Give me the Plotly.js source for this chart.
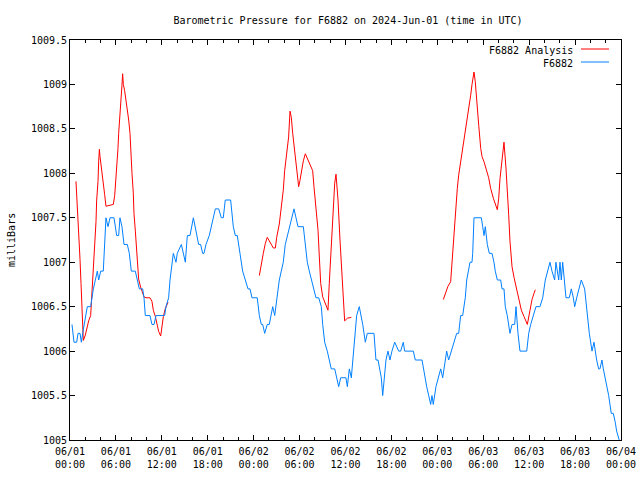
<!DOCTYPE html>
<html>
<head>
<meta charset="utf-8">
<script src="https://cdn.plot.ly/plotly-3.0.1.min.js"></script>
<style>html,body{margin:0;padding:0;background:#fff;}#chart{width:640px;height:480px;}</style>
</head>
<body>
<div id="chart"></div>
<script>
// Hours since 2024-06-01 00:00 UTC
var xTickVals = [0, 6, 12, 18, 24, 30, 36, 42, 48, 54, 60, 66, 72];
var xTickText = ["06/01<br>00:00","06/01<br>06:00","06/01<br>12:00","06/01<br>18:00",
                 "06/02<br>00:00","06/02<br>06:00","06/02<br>12:00","06/02<br>18:00",
                 "06/03<br>00:00","06/03<br>06:00","06/03<br>12:00","06/03<br>18:00",
                 "06/04<br>00:00"];
var yTickVals = [1005, 1005.5, 1006, 1006.5, 1007, 1007.5, 1008, 1008.5, 1009, 1009.5];
var yTickText = ["1005","1005.5","1006","1006.5","1007","1007.5","1008","1008.5","1009","1009.5"];

// Observed station pressure (F6882)
var obsHours = [
 0.26,0.52,0.87,1.05,1.31,1.48,1.66,1.83,2.09,2.26,
 2.70,2.87,3.05,3.31,3.57,3.75,4.01,4.35,4.53,4.70,
 4.97,5.23,5.75,5.93,6.10,6.36,6.53,6.79,7.06,7.49,
 7.75,8.01,8.53,8.80,9.06,9.50,9.67,9.84,10.45,10.71,
 10.98,11.24,12.37,12.54,12.89,13.07,13.33,13.50,13.85,14.02,
 14.55,14.80,15.07,15.33,15.68,16.12,16.38,16.81,17.07,17.33,
 17.51,17.77,18.20,18.73,18.99,19.43,19.77,20.03,20.29,20.99,
 21.34,21.60,21.86,22.21,22.56,22.91,23.26,23.52,23.78,24.47,
 24.74,25.00,25.18,25.44,25.78,26.04,26.23,26.49,26.75,27.01,
 27.35,27.61,27.87,28.13,28.40,28.66,28.92,29.27,29.53,29.79,
 30.49,30.75,31.01,31.27,31.53,31.79,32.14,32.50,32.84,33.02,
 33.28,33.62,33.88,34.14,34.59,34.85,35.11,35.37,36.06,36.24,
 36.50,36.76,36.94,37.20,37.46,37.80,38.06,38.25,38.59,38.85,
 39.72,39.98,40.25,40.51,40.68,40.86,41.12,41.29,41.55,41.81,
 42.07,42.43,42.95,43.21,43.55,43.73,44.86,45.12,46.00,46.35,
 46.61,46.87,47.13,47.30,47.47,47.82,48.09,48.44,48.70,48.87,
 49.22,49.48,49.82,50.09,50.53,50.79,51.05,51.31,51.48,51.65,
 51.84,52.10,52.27,52.53,52.62,52.79,53.75,53.93,54.10,54.27,
 54.53,54.79,55.14,55.40,55.57,55.84,56.28,56.45,56.71,56.88,
 57.14,57.49,57.76,58.11,58.28,58.54,58.80,59.68,59.94,60.20,
 60.54,60.89,61.41,61.77,62.11,62.37,62.72,62.98,63.33,63.50,
 63.86,64.03,64.20,64.38,64.64,64.81,65.24,65.51,65.77,65.95,
 66.21,66.55,66.81,67.25,67.60,67.86,68.21,68.47,68.82,69.08,
 69.25,69.51,69.69,69.95,70.21,70.39,70.73,70.99,71.25,71.43,
 71.77
];
var obsPressure = [
 1006.3,1006.1,1006.1,1006.2,1006.2,1006.1,1006.2,1006.3,1006.4,1006.5,
 1006.5,1006.6,1006.7,1006.8,1006.9,1006.8,1006.9,1006.9,1007.2,1007.5,
 1007.4,1007.5,1007.5,1007.4,1007.3,1007.3,1007.5,1007.4,1007.2,1007.2,
 1007.1,1006.9,1006.9,1006.8,1006.7,1006.7,1006.6,1006.4,1006.4,1006.3,
 1006.3,1006.4,1006.4,1006.5,1006.6,1006.8,1007.0,1007.1,1007.0,1007.1,
 1007.2,1007.1,1007.0,1007.3,1007.3,1007.5,1007.4,1007.2,1007.2,1007.1,
 1007.1,1007.2,1007.3,1007.5,1007.6,1007.6,1007.5,1007.5,1007.7,1007.7,
 1007.4,1007.3,1007.3,1007.1,1006.9,1006.8,1006.7,1006.7,1006.6,1006.6,
 1006.4,1006.3,1006.3,1006.2,1006.3,1006.3,1006.4,1006.5,1006.4,1006.6,
 1006.8,1006.9,1007.0,1007.2,1007.3,1007.4,1007.5,1007.6,1007.5,1007.4,
 1007.4,1007.2,1007.0,1006.9,1006.8,1006.7,1006.6,1006.6,1006.5,1006.3,
 1006.1,1006.0,1005.9,1005.8,1005.8,1005.7,1005.6,1005.7,1005.7,1005.6,
 1005.8,1005.7,1005.9,1006.1,1006.4,1006.5,1006.4,1006.3,1006.1,1006.2,
 1006.2,1005.9,1005.9,1005.8,1005.7,1005.5,1005.8,1005.9,1006.0,1005.9,
 1006.0,1006.1,1006.0,1006.0,1006.1,1006.0,1006.0,1005.9,1005.9,1005.7,
 1005.6,1005.5,1005.4,1005.5,1005.4,1005.6,1005.7,1005.8,1005.7,1005.8,
 1006.0,1005.9,1006.0,1006.1,1006.2,1006.2,1006.4,1006.4,1006.5,1006.6,
 1006.8,1006.9,1007.0,1007.0,1007.1,1007.5,1007.5,1007.4,1007.3,1007.4,
 1007.2,1007.1,1007.1,1007.0,1006.9,1006.8,1006.8,1006.7,1006.7,1006.5,
 1006.4,1006.2,1006.3,1006.3,1006.5,1006.2,1006.0,1006.0,1006.2,1006.3,
 1006.4,1006.5,1006.5,1006.6,1006.8,1006.9,1007.0,1006.9,1006.8,1007.0,
 1006.8,1007.0,1006.8,1007.0,1006.8,1006.6,1006.6,1006.7,1006.6,1006.5,
 1006.6,1006.7,1006.8,1006.7,1006.4,1006.2,1006.0,1006.1,1005.9,1005.8,
 1005.8,1005.9,1005.8,1005.7,1005.6,1005.5,1005.3,1005.3,1005.2,1005.1,
 1005.0
];

// Analysis pressure (F6882 Analysis), three segments separated by gaps
var anaHours1 = [0.78,1.05,1.18,1.31,1.44,1.57,1.66,1.74,2.00,2.18,2.44,2.70,2.87,3.05,3.22,3.40,3.48,3.66,3.75,3.84,3.92,4.10,4.27,4.36,4.53,4.70,5.05,5.66,5.84,6.01,6.19,6.27,6.36,6.53,6.62,6.79,6.88,6.97,7.14,7.32,7.49,7.67,7.84,7.93,8.10,8.27,8.36,8.54,8.71,8.80,8.97,9.23,9.41,9.67,9.93,10.45,10.71,10.89,11.15,11.41,11.59,11.85,12.02,12.20,12.46,12.81];
var anaPressure1 = [1007.91,1007.51,1007.27,1007.03,1006.76,1006.50,1006.24,1006.12,1006.18,1006.25,1006.34,1006.40,1006.64,1006.98,1007.24,1007.46,1007.69,1007.91,1008.14,1008.27,1008.19,1008.04,1007.93,1007.84,1007.76,1007.63,1007.64,1007.65,1007.75,1007.94,1008.10,1008.28,1008.45,1008.63,1008.82,1008.99,1009.12,1009.00,1008.93,1008.82,1008.74,1008.60,1008.45,1008.22,1008.00,1007.78,1007.55,1007.35,1007.14,1006.92,1006.81,1006.72,1006.67,1006.61,1006.60,1006.60,1006.56,1006.46,1006.39,1006.30,1006.22,1006.17,1006.30,1006.39,1006.48,1006.55];
var anaHours2 = [24.74,24.91,25.26,25.52,25.78,26.04,26.31,26.57,26.83,27.01,27.35,27.61,27.87,28.05,28.31,28.57,28.75,28.92,29.10,29.36,29.62,29.88,30.05,30.23,30.49,30.75,31.01,31.36,31.71,31.88,32.14,32.41,32.58,32.76,33.02,33.36,33.71,33.88,34.14,34.41,34.59,34.76,35.02,35.28,35.54,35.72,35.89,36.24,36.76];
var anaPressure2 = [1006.85,1006.95,1007.10,1007.21,1007.28,1007.24,1007.20,1007.16,1007.16,1007.28,1007.43,1007.62,1007.81,1008.03,1008.26,1008.41,1008.70,1008.63,1008.45,1008.26,1008.07,1007.85,1007.92,1008.03,1008.14,1008.22,1008.17,1008.10,1008.03,1007.85,1007.62,1007.36,1007.06,1006.76,1006.61,1006.53,1006.46,1006.76,1007.14,1007.51,1007.89,1007.99,1007.70,1007.25,1006.84,1006.61,1006.34,1006.37,1006.38];
var anaHours3 = [48.78,49.04,49.39,49.74,49.92,50.09,50.35,50.61,50.79,51.05,51.40,51.66,51.92,52.18,52.36,52.53,52.79,52.96,53.14,53.41,53.67,53.84,54.10,54.36,54.71,54.97,55.32,55.84,56.02,56.19,56.45,56.71,56.97,57.14,57.32,57.49,57.76,58.02,58.28,58.63,58.98,59.32,59.76,60.11,60.37,60.63,60.80];
var anaPressure3 = [1006.58,1006.65,1006.73,1006.78,1007.02,1007.20,1007.51,1007.83,1007.98,1008.13,1008.28,1008.43,1008.58,1008.74,1008.88,1009.00,1009.14,1009.03,1008.80,1008.54,1008.28,1008.19,1008.13,1008.06,1007.95,1007.83,1007.72,1007.59,1007.72,1007.94,1008.16,1008.35,1008.06,1007.72,1007.54,1007.24,1006.95,1006.83,1006.73,1006.61,1006.46,1006.39,1006.30,1006.46,1006.58,1006.65,1006.69];

var seriesNames = ["F6882 Analysis", "F6882"];
var seriesColors = ["#ff0000", "#0080ff"];

var anaX = anaHours1.concat([null], anaHours2, [null], anaHours3);
var anaY = anaPressure1.concat([null], anaPressure2, [null], anaPressure3);

var FONT = "DejaVu Sans Mono, monospace";

var traces = [
  {x: anaX, y: anaY, type: "scatter", mode: "lines", name: seriesNames[0],
   line: {color: seriesColors[0], width: 1}, connectgaps: false, showlegend: false},
  {x: obsHours, y: obsPressure, type: "scatter", mode: "lines", name: seriesNames[1],
   line: {color: seriesColors[1], width: 1}, showlegend: false}
];

// plot area in pixels: left 70, right 621, top 40, bottom 440
function px2paperX(p){ return (p - 70) / 551; }
function px2paperY(p){ return (440 - p) / 400; }

var layout = {
  width: 640, height: 480,
  margin: {l: 70, r: 19, t: 40, b: 40, pad: 0},
  paper_bgcolor: "#ffffff", plot_bgcolor: "#ffffff",
  font: {family: FONT, size: 10, color: "#000000"},
  title: {text: "Barometric Pressure for F6882 on 2024-Jun-01 (time in UTC)",
          font: {family: FONT, size: 10, color: "#000000"},
          xref: "container", x: 348/640, xanchor: "center",
          yref: "container", y: 1 - 20/480, yanchor: "middle"},
  xaxis: {range: [0, 72], tickmode: "array", tickvals: xTickVals, ticktext: xTickText,
          ticks: "inside", ticklen: 5, tickwidth: 1, tickcolor: "#000",
          ticklabelstandoff: 2,
          minor: {dtick: 2, tick0: 0, ticks: "inside", ticklen: 3, tickcolor: "#000", showgrid: false},
          showline: true, linecolor: "#000", linewidth: 1, mirror: "ticks",
          showgrid: false, zeroline: false, fixedrange: true,
          tickfont: {family: FONT, size: 10, color: "#000"}},
  yaxis: {range: [1005, 1009.5], tickmode: "array", tickvals: yTickVals, ticktext: yTickText,
          ticks: "inside", ticklen: 5, tickwidth: 1, tickcolor: "#000",
          showline: true, linecolor: "#000", linewidth: 1, mirror: "ticks",
          showgrid: false, zeroline: false, fixedrange: true,
          tickfont: {family: FONT, size: 10, color: "#000"}},
  annotations: [
    {text: "milliBars", xref: "paper", yref: "paper", x: px2paperX(11), y: 0.5,
     textangle: -90, showarrow: false, xanchor: "center", yanchor: "middle",
     font: {family: FONT, size: 10, color: "#000"}},
    {text: seriesNames[0], xref: "paper", yref: "paper", x: px2paperX(575), y: px2paperY(50),
     showarrow: false, xanchor: "right", yanchor: "middle",
     font: {family: FONT, size: 10, color: "#000"}},
    {text: seriesNames[1], xref: "paper", yref: "paper", x: px2paperX(575), y: px2paperY(63),
     showarrow: false, xanchor: "right", yanchor: "middle",
     font: {family: FONT, size: 10, color: "#000"}}
  ],
  shapes: [
    {type: "line", xref: "paper", yref: "paper", x0: px2paperX(581), x1: px2paperX(609),
     y0: px2paperY(49), y1: px2paperY(49), line: {color: seriesColors[0], width: 1}},
    {type: "line", xref: "paper", yref: "paper", x0: px2paperX(581), x1: px2paperX(609),
     y0: px2paperY(62), y1: px2paperY(62), line: {color: seriesColors[1], width: 1}}
  ],
  showlegend: false
};

Plotly.newPlot("chart", traces, layout, {displayModeBar: false, staticPlot: true});
</script>
</body>
</html>
